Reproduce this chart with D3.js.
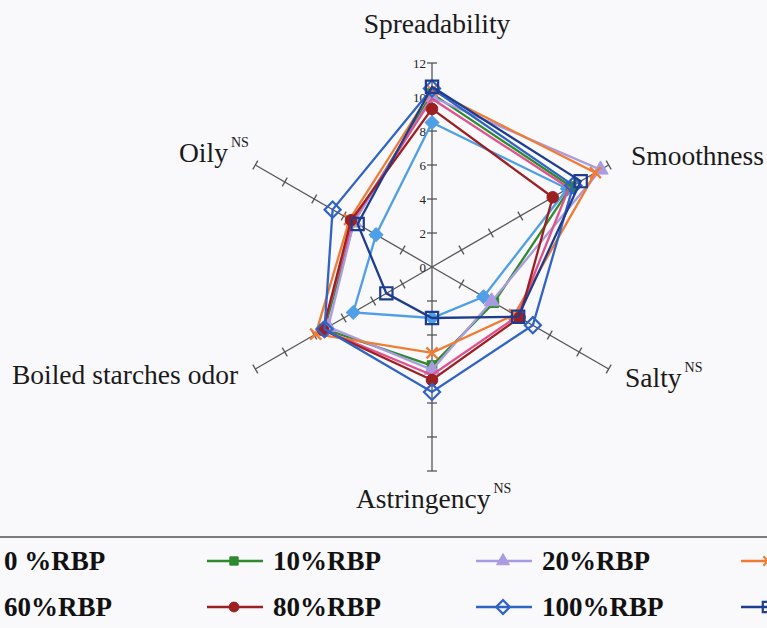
<!DOCTYPE html>
<html>
<head>
<meta charset="utf-8">
<script src="https://cdn.jsdelivr.net/npm/d3@7"></script>
<style>
  html, body { margin: 0; padding: 0; background: #f9f8fb; }
  svg { display: block; }
</style>
</head>
<body>
<svg id="chart" width="767" height="628"></svg>
<script>
// ---------------- DATA ----------------
const axesNames = ["Spreadability", "Smoothness", "Salty", "Astringency", "Boiled starches odor", "Oily"];
const axesNS = [false, false, true, true, false, true];
const tickValues = [0, 2, 4, 6, 8, 10, 12];
const tickLabels = ["0", "2", "4", "6", "8", "10", "12"];

const seriesNames = ["0 %RBP", "10%RBP", "20%RBP", "40%RBP", "60%RBP", "80%RBP", "100%RBP", "Commercial"];
const s0   = [8.5, 9.2, 3.5, 3.0, 5.35, 3.8];
const s10  = [10.2, 9.45, 4.2, 5.8, 7.3, 5.3];
const s20  = [10.0, 11.45, 4.05, 6.05, 7.05, 5.3];
const s40  = [10.4, 11.1, 5.6, 5.05, 7.9, 5.6];
const s60  = [9.9, 9.3, 5.8, 6.35, 7.4, 5.4];
const s80  = [9.3, 8.2, 5.95, 6.65, 7.4, 5.5];
const s100 = [10.5, 9.6, 6.85, 7.35, 7.3, 6.75];
const sCom = [10.6, 10.1, 5.85, 3.0, 3.1, 5.05];
const seriesValues = [s0, s10, s20, s40, s60, s80, s100, sCom];

// ---------------- STYLE ----------------
const colors = ["#4f9fe6", "#2f8a2f", "#a99be0", "#f07c34", "#e0528c", "#9c1f22", "#2f63c4", "#1e3d8f"];
const markers = ["diamond", "square", "triangle", "times", "none", "circle", "diamondOpen", "squareOpen"];

const W = 767, H = 628;
const cx = 432, cy = 267, R = 204;
const svg = d3.select("#chart");

const r = d3.scaleLinear().domain([0, 12]).range([0, R]);
const ang = d3.scaleLinear().domain([0, axesNames.length]).range([0, 2 * Math.PI]);
function pt(i, v) {
  const a = ang(i);
  return [cx + r(v) * Math.sin(a), cy - r(v) * Math.cos(a)];
}

// ---------------- AXES ----------------
const axisG = svg.append("g");
axesNames.forEach((name, i) => {
  const a = ang(i);
  const [x2, y2] = pt(i, 12);
  axisG.append("line")
    .attr("x1", cx).attr("y1", cy).attr("x2", x2).attr("y2", y2)
    .attr("stroke", "#555").attr("stroke-width", 1.3);
  tickValues.slice(1).forEach(t => {
    const [px, py] = pt(i, t);
    const nx = Math.cos(a), ny = Math.sin(a);
    axisG.append("line")
      .attr("x1", px - nx * 5).attr("y1", py - ny * 5)
      .attr("x2", px + nx * 5).attr("y2", py + ny * 5)
      .attr("stroke", "#555").attr("stroke-width", 1.3);
  });
});
tickValues.forEach((t, k) => {
  const [px, py] = pt(0, t);
  axisG.append("text")
    .attr("x", px - 6).attr("y", py + 4.5)
    .attr("text-anchor", "end")
    .attr("font-family", "Liberation Serif, Times New Roman, serif")
    .attr("font-size", 13)
    .attr("fill", "#222")
    .text(tickLabels[k]);
});

// ---------------- AXIS LABELS ----------------
const labelPos = [
  { x: 437, y: 33, anchor: "middle" },
  { x: 631, y: 165, anchor: "start" },
  { x: 625, y: 387, anchor: "start" },
  { x: 356, y: 508, anchor: "start" },
  { x: 12, y: 384, anchor: "start" },
  { x: 179, y: 162, anchor: "start" }
];
axesNames.forEach((name, i) => {
  const p = labelPos[i];
  const t = svg.append("text")
    .attr("x", p.x).attr("y", p.y)
    .attr("text-anchor", p.anchor)
    .attr("font-family", "Liberation Serif, Times New Roman, serif")
    .attr("font-size", 27.5)
    .attr("fill", "#1a1a1a")
    .text(name);
  if (axesNS[i]) {
    t.append("tspan")
      .attr("dx", 3).attr("dy", -15)
      .attr("font-size", 14)
      .text("NS");
  }
});

// ---------------- SERIES ----------------
function drawMarker(g, kind, color, x, y, scale) {
  if (kind === "none") return;
  const k = scale || 1;
  if (kind === "times") {
    const h = 5.5 * k;
    g.append("path")
      .attr("d", `M${x - h},${y - h}L${x + h},${y + h}M${x - h},${y + h}L${x + h},${y - h}`)
      .attr("stroke", color).attr("stroke-width", 2.2).attr("fill", "none");
    return;
  }
  let type = d3.symbolSquare, size = 100, rot = 0, fill = color, sw = 1;
  if (kind === "diamond") { rot = 45; size = 95; }
  if (kind === "diamondOpen") { rot = 45; size = 130; fill = "none"; sw = 2.2; }
  if (kind === "square") { size = 95; }
  if (kind === "squareOpen") { size = 150; fill = "none"; sw = 2.2; }
  if (kind === "triangle") { type = d3.symbolTriangle; size = 100; }
  if (kind === "circle") { type = d3.symbolCircle; size = 105; }
  g.append("path")
    .attr("d", d3.symbol().type(type).size(size * k * k)())
    .attr("transform", `translate(${x},${y}) rotate(${rot})`)
    .attr("fill", fill).attr("stroke", color).attr("stroke-width", sw);
}

const line = d3.line().curve(d3.curveLinearClosed);
const seriesG = svg.append("g");
seriesValues.forEach((vals, s) => {
  const pts = vals.map((v, i) => pt(i, v));
  const g = seriesG.append("g");
  g.append("path")
    .attr("d", line(pts))
    .attr("fill", "none")
    .attr("stroke", colors[s])
    .attr("stroke-width", 2.3)
    .attr("stroke-linejoin", "miter");
  pts.forEach(p => drawMarker(g, markers[s], colors[s], p[0], p[1], 1));
});

// ---------------- LEGEND ----------------
svg.append("line")
  .attr("x1", 0).attr("x2", W).attr("y1", 537).attr("y2", 537)
  .attr("stroke", "#555").attr("stroke-width", 1.5);

const colX = [-62, 207, 476, 741];
const rowY = [561, 607];
const legendOrder = [[0, 1, 2, 3], [4, 5, 6, 7]];
const legG = svg.append("g");
legendOrder.forEach((row, ri) => {
  row.forEach((s, ci) => {
    const x0 = colX[ci], y0 = rowY[ri];
    legG.append("line")
      .attr("x1", x0).attr("x2", x0 + 56).attr("y1", y0).attr("y2", y0)
      .attr("stroke", colors[s]).attr("stroke-width", 2.3);
    drawMarker(legG, markers[s], colors[s], x0 + 27, y0, 0.85);
    const tx = x0 + 66;
    if (tx < W) {
      legG.append("text")
        .attr("x", tx).attr("y", y0 + 9)
        .attr("font-family", "Liberation Serif, Times New Roman, serif")
        .attr("font-weight", "bold")
        .attr("font-size", 27)
        .attr("fill", "#111")
        .text(seriesNames[s]);
    }
  });
});
</script>
</body>
</html>
